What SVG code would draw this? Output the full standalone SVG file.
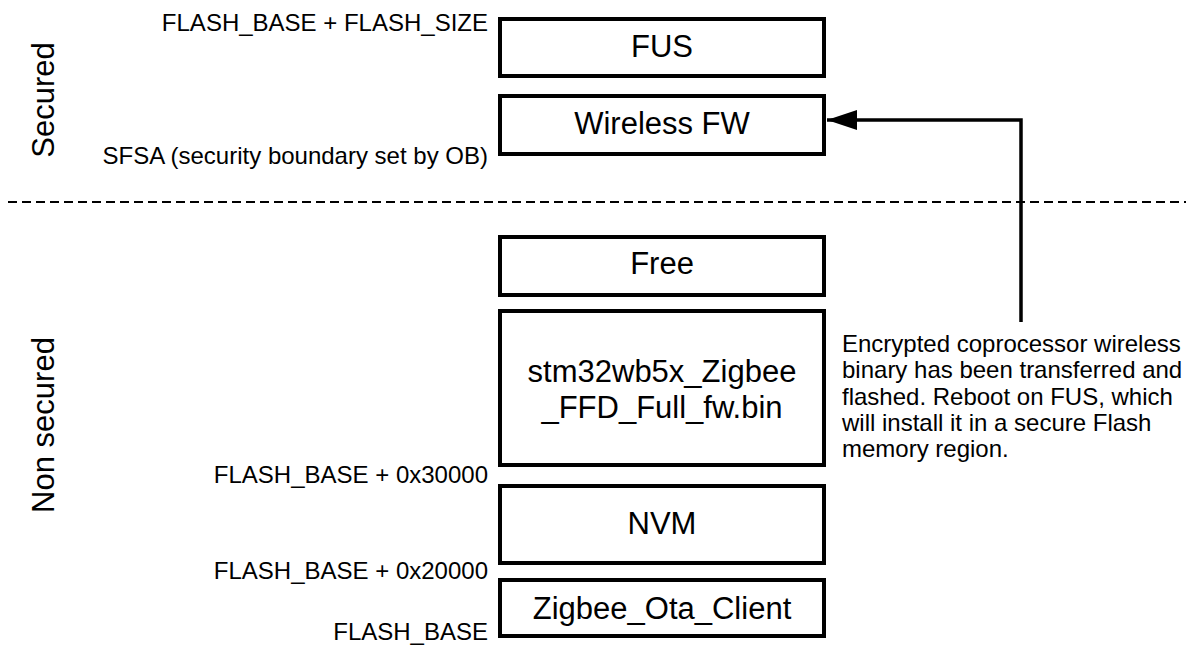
<svg xmlns="http://www.w3.org/2000/svg" width="1194" height="646" viewBox="0 0 1194 646">
<defs>
<style>
.box{fill:#fff;stroke:#000;stroke-width:4}
.bl{font-family:"Liberation Sans",Arial,sans-serif;font-size:31px;fill:#000;text-anchor:middle}
.lbl{font-family:"Liberation Sans",Arial,sans-serif;font-size:24px;fill:#000;text-anchor:end}
.note{font-family:"Liberation Sans",Arial,sans-serif;font-size:24px;fill:#000}
.side{font-family:"Liberation Sans",Arial,sans-serif;font-size:31px;fill:#000;text-anchor:middle}
.conn{fill:none;stroke:#000;stroke-width:3.5}
</style>
<marker id="ah" viewBox="0 0 30 20" refX="30" refY="10" markerUnits="userSpaceOnUse" markerWidth="30" markerHeight="20" orient="auto">
<path d="M0,0 L30,10 L0,20 Z" fill="#000"/>
</marker>
</defs>
<rect width="1194" height="646" fill="#fff"/>
<g id="zones">
<text class="side" transform="translate(54,100) rotate(-90)">Secured</text>
<text class="side" transform="translate(54,425) rotate(-90)">Non secured</text>
<line x1="8" y1="202" x2="1186" y2="202" stroke="#000" stroke-width="2" stroke-dasharray="9,5"/>
</g>
<g id="labels">
<text class="lbl" x="488" y="31">FLASH_BASE + FLASH_SIZE</text>
<text class="lbl" x="488" y="164">SFSA (security boundary set by OB)</text>
<text class="lbl" x="488" y="483">FLASH_BASE + 0x30000</text>
<text class="lbl" x="488" y="579">FLASH_BASE + 0x20000</text>
<text class="lbl" x="488" y="640">FLASH_BASE</text>
</g>
<g id="fus">
<rect class="box" x="500" y="19" width="324" height="57"/>
<text class="bl" x="662" y="57">FUS</text>
</g>
<g id="wireless-fw">
<rect class="box" x="500" y="96" width="324" height="58"/>
<text class="bl" x="662" y="134">Wireless FW</text>
</g>
<g id="free">
<rect class="box" x="500" y="237" width="324" height="58"/>
<text class="bl" x="662" y="274">Free</text>
</g>
<g id="stm32-bin">
<rect class="box" x="500" y="311" width="324" height="154"/>
<text class="bl" x="662" y="382">stm32wb5x_Zigbee</text>
<text class="bl" x="662" y="418">_FFD_Full_fw.bin</text>
</g>
<g id="nvm">
<rect class="box" x="500" y="486" width="324" height="77"/>
<text class="bl" x="662" y="534">NVM</text>
</g>
<g id="ota-client">
<rect class="box" x="500" y="580" width="324" height="56"/>
<text class="bl" x="662" y="619">Zigbee_Ota_Client</text>
</g>
<g id="connectors">
<polyline class="conn" points="1021,322 1021,120 827,120" marker-end="url(#ah)"/>
</g>
<g id="note">
<text class="note" x="842" y="352">Encrypted coprocessor wireless</text>
<text class="note" x="842" y="378">binary has been transferred and</text>
<text class="note" x="842" y="405">flashed. Reboot on FUS, which</text>
<text class="note" x="842" y="431">will install it in a secure Flash</text>
<text class="note" x="842" y="457">memory region.</text>
</g>
</svg>
